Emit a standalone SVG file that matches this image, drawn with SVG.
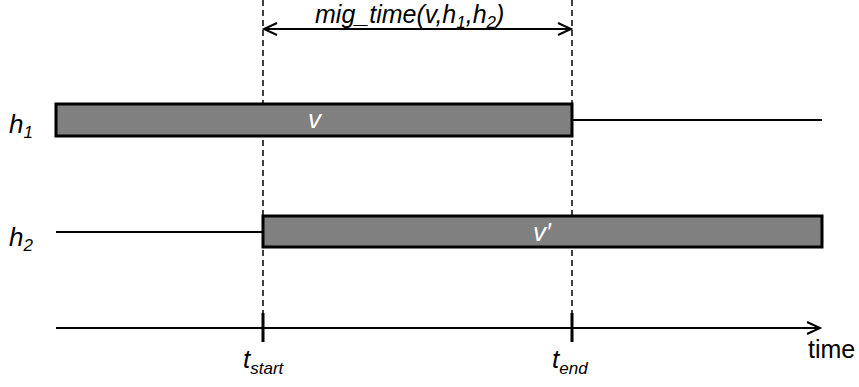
<svg xmlns="http://www.w3.org/2000/svg" width="859" height="387" viewBox="0 0 859 387">
  <style>
    .lbl { font-family: "Liberation Sans", Arial, sans-serif; fill: #000; font-size: 26px; }
    .it { font-style: italic; }
    .sub { font-size: 17px; }
    .bar { fill: #808080; stroke: #000; stroke-width: 3; }
    .line { stroke: #000; stroke-width: 2; fill: none; }
    .dash { stroke: #000; stroke-width: 1.5; stroke-dasharray: 6 4; fill: none; }
    .tick { stroke: #000; stroke-width: 3; }
    .head { stroke: #000; stroke-width: 2; fill: none; }
  </style>
  <rect width="859" height="387" fill="#fff"/>

  <g id="connectors">
    <!-- dashed guides at t_start and t_end -->
    <line class="dash" x1="263" y1="0" x2="263" y2="314"/>
    <line class="dash" x1="572" y1="0" x2="572" y2="314"/>
    <!-- duration measure -->
    <line class="line" x1="264" y1="29" x2="571" y2="29"/>
    <polyline class="head" points="277,23 264,29 277,35"/>
    <polyline class="head" points="558,23 571,29 558,35"/>
    <!-- host timelines -->
    <line class="line" x1="572" y1="120" x2="822" y2="120"/>
    <line class="line" x1="56" y1="232" x2="263" y2="232"/>
    <!-- time axis -->
    <line class="line" x1="56" y1="328" x2="819" y2="328"/>
    <polyline class="head" points="807,322 820,328 807,334"/>
    <line class="tick" x1="263" y1="313" x2="263" y2="342"/>
    <line class="tick" x1="572" y1="313" x2="572" y2="342"/>
  </g>

  <g id="vm-v">
    <rect class="bar" x="56" y="104" width="516" height="32"/>
    <text class="lbl it" x="308" y="128" style="fill:#fff">v</text>
  </g>

  <g id="vm-v-prime">
    <rect class="bar" x="263" y="216" width="559" height="31"/>
    <text class="lbl it" x="533" y="241" style="fill:#fff">v′</text>
  </g>

  <g id="host-h1">
    <text class="lbl it" x="9" y="133">h<tspan class="sub" dy="5">1</tspan></text>
  </g>
  <g id="host-h2">
    <text class="lbl it" x="9" y="246">h<tspan class="sub" dy="5">2</tspan></text>
  </g>

  <g id="duration-label">
    <text class="lbl it" x="315" y="23" style="font-size:25px">mig_time(v,h<tspan class="sub" dy="5">1</tspan><tspan dy="-5">,h</tspan><tspan class="sub" dy="5">2</tspan><tspan dy="-5">)</tspan></text>
  </g>

  <g id="t-start">
    <text class="lbl it" x="243" y="368">t<tspan class="sub" dy="6">start</tspan></text>
  </g>
  <g id="t-end">
    <text class="lbl it" x="552" y="368">t<tspan class="sub" dy="6">end</tspan></text>
  </g>

  <g id="axis-label">
    <text class="lbl" x="808" y="358" style="font-size:25px">time</text>
  </g>
</svg>
